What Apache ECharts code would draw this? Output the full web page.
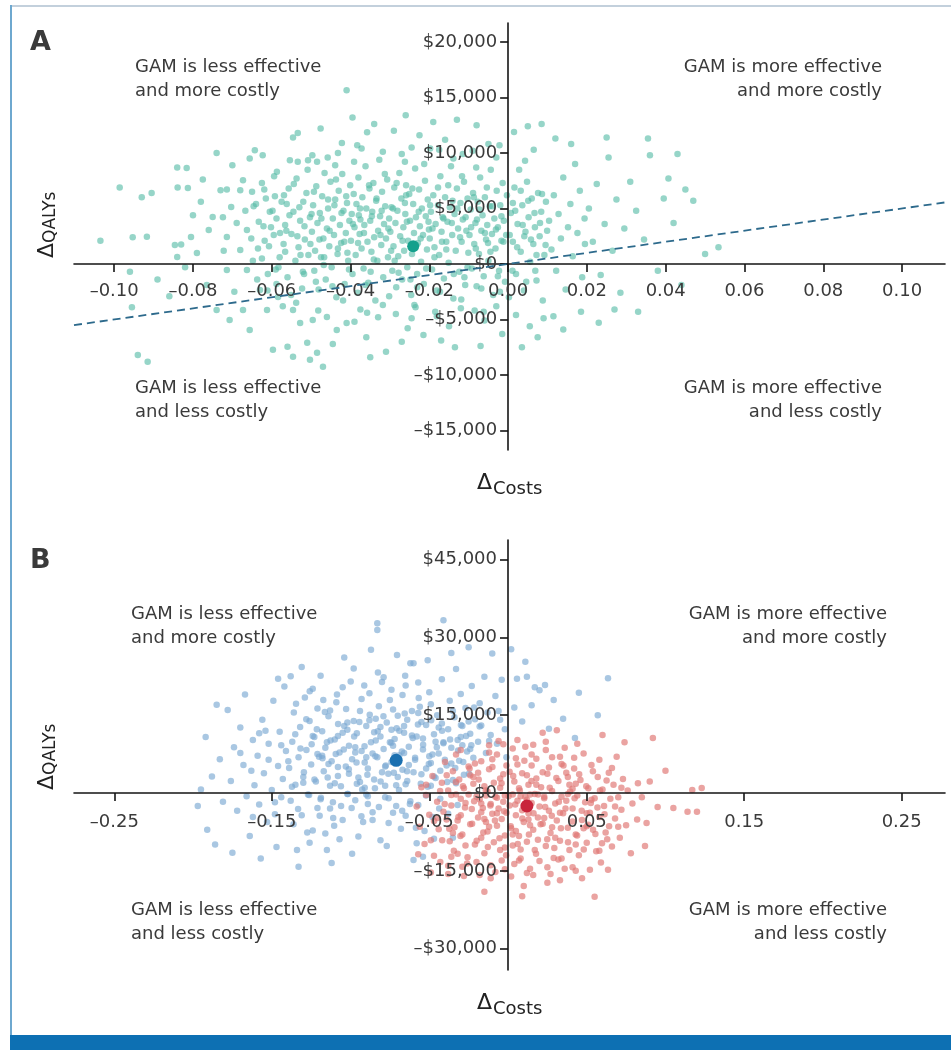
<!DOCTYPE html>
<html>
<head>
    <meta charset="utf-8">
    <title>Cost-effectiveness planes</title>
    <style>
        html, body { margin: 0; padding: 0; background: #fff; }
        #main { width: 951px; height: 1050px; }
    </style>
</head>
<body>
    <div id="main"></div>
    <script src="https://cdn.jsdelivr.net/npm/echarts/dist/echarts.min.js"></script>
    <script type="text/javascript">

        // ---- panel A data (x = difference, y = dollars) ----
        const aXTicks = [-0.10, -0.08, -0.06, -0.04, -0.02, 0, 0.02, 0.04, 0.06, 0.08, 0.10];
        const aYTicks = [-15000, -10000, -5000, 0, 5000, 10000, 15000, 20000];

        const aPoints = [
            [-0.1035,2100],[-0.0986,6900],[-0.0953,2400],[-0.0917,2450],[-0.0930,6000],[-0.0960,-700],[-0.0955,-3900],[-0.0940,-8200],[-0.0915,-8800],[-0.0905,6400],
            [-0.0840,8700],[-0.0816,8650],[-0.0839,6900],[-0.0813,6850],[-0.0846,1700],[-0.0800,4400],[-0.0840,630],[-0.0830,1750],[-0.0805,2430],[-0.0890,-1400],[-0.0860,-2900],[-0.0820,-300],
            [-0.0790,990],[-0.0760,3060],[-0.0750,4230],[-0.0724,4200],[-0.0714,2430],[-0.0740,10000],[-0.0730,6650],[-0.0714,6700],[-0.0700,8900],[-0.0714,-540],[-0.0740,-4140],[-0.0707,-5040],[-0.0780,5600],[-0.0765,-1900],[-0.0722,1200],[-0.0775,7600],[-0.0703,5130],
            [-0.0689,3690],[-0.0663,3060],[-0.0680,1260],[-0.0663,-540],[-0.0673,-4140],[-0.0656,-5940],[-0.0680,6650],[-0.0650,6500],[-0.0673,7550],[-0.0643,10250],[-0.0656,9500],[-0.0623,9800],[-0.0612,-4140],[-0.0630,-2340],[-0.0618,2100],[-0.0605,4700],[-0.0640,5400],[-0.0695,-2500],[-0.0625,7300],[-0.0610,-900],[-0.0648,300],[-0.0602,3300],[-0.0635,1400],[-0.0667,4800],[-0.0615,5900],
            [-0.0597,-7730],[-0.0560,-7460],[-0.0546,-8360],[-0.0510,-7100],[-0.0584,-2970],[-0.0546,-4140],[-0.0528,-5310],[-0.0587,8300],[-0.0546,11400],[-0.0534,11800],[-0.0554,9350],[-0.0534,9200],[-0.0508,9350],
            [-0.0595,2600],[-0.0588,4100],[-0.0580,600],[-0.0575,5600],[-0.0570,1800],[-0.0566,3500],[-0.0560,-1200],[-0.0557,6800],[-0.0550,2700],[-0.0545,4700],[-0.0540,300],[-0.0537,7700],[-0.0532,1500],[-0.0528,3900],[-0.0523,-2200],[-0.0520,5600],[-0.0516,2200],[-0.0512,6400],[-0.0507,800],[-0.0503,4200],[-0.0590,-500],[-0.0572,-3800],[-0.0518,-900],[-0.0563,3000],[-0.0592,6100],
            [-0.0503,-8630],[-0.0470,-9260],[-0.0485,-8000],[-0.0496,-5040],[-0.0460,-4770],[-0.0435,-5940],[-0.0410,-5310],[-0.0485,9200],[-0.0422,10900],[-0.0432,10000],
            [-0.0498,2900],[-0.0495,5300],[-0.0492,-600],[-0.0490,1200],[-0.0487,7000],[-0.0484,3700],[-0.0481,-2300],[-0.0478,4600],[-0.0475,600],[-0.0472,6100],[-0.0469,2300],[-0.0466,8200],[-0.0463,-1400],[-0.0460,3200],[-0.0457,5000],[-0.0454,1600],[-0.0451,7400],[-0.0448,-300],[-0.0445,4100],[-0.0442,2600],[-0.0439,5800],[-0.0436,-3000],[-0.0433,900],[-0.0430,6600],[-0.0427,3500],[-0.0424,1900],[-0.0421,8100],[-0.0418,4800],[-0.0415,-1800],[-0.0412,2800],[-0.0409,5500],[-0.0406,300],[-0.0403,3900],[-0.0401,7100],[-0.0476,12200],[-0.0445,-7200],[-0.0458,9600],
            [-0.0410,15650],[-0.0395,13200],[-0.0358,11870],[-0.0340,12600],[-0.0372,10400],
            [-0.0399,2100],[-0.0397,4500],[-0.0395,-900],[-0.0392,6300],[-0.0390,3300],[-0.0387,800],[-0.0385,5400],[-0.0382,-2600],[-0.0380,7800],[-0.0377,2700],[-0.0375,4000],[-0.0372,1400],[-0.0370,6000],[-0.0367,-400],[-0.0365,3500],[-0.0362,8800],[-0.0360,5000],[-0.0357,2000],[-0.0355,-1700],[-0.0352,6800],[-0.0350,3900],[-0.0347,1100],[-0.0345,4700],[-0.0342,7300],[-0.0340,2400],[-0.0337,-3300],[-0.0335,5700],[-0.0332,300],[-0.0330,3000],[-0.0327,9400],[-0.0325,4300],[-0.0322,1700],[-0.0320,6500],[-0.0317,-1200],[-0.0315,3600],[-0.0312,5200],[-0.0310,2300],[-0.0307,7600],[-0.0305,600],[-0.0302,4100],
            [-0.0390,-5200],[-0.0360,-6600],[-0.0330,-4800],[-0.0310,-7900],[-0.0375,-4100],[-0.0350,-8400],
            [-0.0290,12000],[-0.0260,13400],[-0.0225,11600],[-0.0245,10500],[-0.0270,9900],
            [-0.0299,2900],[-0.0296,5100],[-0.0294,-600],[-0.0291,1600],[-0.0289,6900],[-0.0286,3700],[-0.0284,-2100],[-0.0281,4800],[-0.0279,700],[-0.0276,8200],[-0.0274,2500],[-0.0271,5900],[-0.0269,-1400],[-0.0266,3300],[-0.0264,1200],[-0.0261,4500],[-0.0259,7100],[-0.0256,-300],[-0.0254,2100],[-0.0251,6300],[-0.0249,3900],[-0.0246,-2800],[-0.0244,900],[-0.0241,5400],[-0.0239,2800],[-0.0236,8600],[-0.0234,4200],[-0.0231,-900],[-0.0229,1900],[-0.0226,6700],[-0.0224,3400],[-0.0221,200],[-0.0219,5000],[-0.0216,2600],[-0.0214,-1800],[-0.0211,7500],[-0.0209,4300],[-0.0206,1300],[-0.0204,5800],[-0.0201,3100],
            [-0.0285,-4500],[-0.0255,-5800],[-0.0235,-3900],[-0.0215,-6400],[-0.0270,-7000],[-0.0245,-4900],
            [-0.0190,12800],[-0.0160,11200],[-0.0130,13000],[-0.0175,10300],[-0.0115,9900],
            [-0.0199,2300],[-0.0196,4700],[-0.0193,-500],[-0.0190,6200],[-0.0187,1500],[-0.0184,3600],[-0.0181,-2400],[-0.0178,5300],[-0.0175,800],[-0.0172,7900],[-0.0169,2900],[-0.0166,4200],[-0.0163,-1300],[-0.0160,6000],[-0.0157,2000],[-0.0154,3800],[-0.0151,100],[-0.0148,5100],[-0.0145,8800],[-0.0142,2600],[-0.0139,-3100],[-0.0136,4500],[-0.0133,1200],[-0.0130,6800],[-0.0127,3200],[-0.0124,-700],[-0.0121,5500],[-0.0118,2000],[-0.0115,4000],[-0.0112,7400],[-0.0109,-1900],[-0.0106,3000],[-0.0103,5900],[-0.0101,1000],
            [-0.0185,-4300],[-0.0150,-5600],[-0.0120,-4000],[-0.0170,-6900],[-0.0135,-7500],
            [-0.0080,12500],[-0.0050,10800],[-0.0030,9600],[-0.0090,10200],
            [-0.0098,2600],[-0.0095,4900],[-0.0092,-400],[-0.0089,6400],[-0.0086,1800],[-0.0083,3700],[-0.0080,-2000],[-0.0077,5600],[-0.0074,900],[-0.0071,7800],[-0.0068,3000],[-0.0065,4400],[-0.0062,-1100],[-0.0059,6000],[-0.0056,2200],[-0.0053,3500],[-0.0050,300],[-0.0047,5200],[-0.0044,8500],[-0.0041,2700],[-0.0038,-2800],[-0.0035,4100],[-0.0032,1400],[-0.0029,6600],[-0.0026,3300],[-0.0023,-600],[-0.0020,5300],[-0.0017,2100],[-0.0014,7300],[-0.0011,3900],[-0.0008,-1600],[-0.0005,2600],
            [-0.0085,-4200],[-0.0060,-5100],[-0.0030,-3800],[-0.0015,-6300],[-0.0070,-7400],
            [0.0007,4600],[0.0012,2000],[0.0016,6900],[0.0020,-900],[0.0024,3600],[0.0028,8500],[0.0032,1100],[0.0036,5300],[0.0040,-2400],[0.0044,2900],[0.0048,7400],[0.0052,4200],[0.0056,200],[0.0060,5900],[0.0064,1800],[0.0068,3300],[0.0072,-1500],[0.0076,6400],[0.0080,2500],[0.0084,4700],[0.0088,-3300],[0.0092,800],[0.0096,5600],[0.0099,3000],
            [0.0015,11900],[0.0050,12400],[0.0085,12600],[0.0065,10300],
            [0.0020,-4600],[0.0055,-5600],[0.0090,-4900],[0.0035,-7500],[0.0075,-6600],
            [0.0104,3900],[0.0110,1300],[0.0116,6200],[0.0122,-600],[0.0128,4500],[0.0134,2300],[0.0140,7800],[0.0146,-2300],[0.0152,3300],[0.0158,5400],[0.0164,700],[0.0170,9000],[0.0176,2800],[0.0182,6600],[0.0188,-1200],[0.0194,4100],[0.0120,11300],[0.0160,10800],[0.0115,-4700],[0.0140,-5900],[0.0185,-4300],[0.0195,1800],
            [0.0205,5000],[0.0215,2000],[0.0225,7200],[0.0235,-1000],[0.0245,3600],[0.0255,9600],[0.0265,1200],[0.0275,5800],[0.0285,-2600],[0.0295,3200],[0.0230,-5300],[0.0270,-4100],[0.0250,11400],
            [0.0310,7400],[0.0325,4800],[0.0345,2200],[0.0360,9800],[0.0380,-600],[0.0395,5900],[0.0420,3700],[0.0450,6700],[0.0500,900],[0.0330,-4300],[0.0355,11300],[0.0440,-1900],[0.0430,9900],[0.0534,1500],[0.0470,5700],[0.0407,7700]
        ];
        // extra points read from the dense core of the cloud
        const aCorePoints = [
            [-0.0652,2300],[-0.0646,5200],[-0.0637,-1400],[-0.0633,3800],[-0.0625,500],[-0.0619,6700],[-0.0611,-2400],[-0.0607,1600],[-0.0598,4800],[-0.0594,7900],
            [-0.0583,-300],[-0.0579,2800],[-0.0569,6200],[-0.0566,1100],[-0.0555,4400],[-0.0551,-2800],[-0.0544,7200],[-0.0535,2500],[-0.0530,5100],[-0.0521,-700],
            [-0.0517,3400],[-0.0509,8500],[-0.0502,1800],[-0.0493,6500],[-0.0488,-1600],[-0.0479,2200],[-0.0474,4100],[-0.0467,600],[-0.0457,5800],[-0.0453,3000],
            [-0.0446,-2000],[-0.0437,7600],[-0.0432,1400],[-0.0423,4600],[-0.0416,2000],[-0.0411,6100],[-0.0404,-500],[-0.0394,3600],[-0.0391,9200],[-0.0381,1900],
            [-0.0376,5000],[-0.0366,2800],[-0.0362,-1900],[-0.0353,7100],[-0.0346,4300],[-0.0341,400],[-0.0334,5900],[-0.0324,2600],[-0.0318,-3700],[-0.0313,8100],
            [-0.0304,3200],[-0.0297,1200],[-0.0292,5000],[-0.0283,7300],[-0.0278,-800],[-0.0268,2100],[-0.0262,5500],[-0.0257,3800],[-0.0248,-1400],[-0.0243,6800],
            [-0.0233,1700],[-0.0227,4700],[-0.0222,2300],[-0.0213,9000],[-0.0208,-400],[-0.0198,5300],[-0.0192,3200],[-0.0187,600],[-0.0178,6900],[-0.0173,-2500],
            [-0.0164,4100],[-0.0157,1300],[-0.0152,7100],[-0.0143,3700],[-0.0138,-900],[-0.0129,5000],[-0.0122,2400],[-0.0117,7900],[-0.0108,4200],[-0.0103,-300],
            [-0.0094,3300],[-0.0087,6000],[-0.0082,1400],[-0.0073,4900],[-0.0068,-2200],[-0.0059,2800],[-0.0054,6900],[-0.0045,1100],[-0.0040,5200],[-0.0031,3100],
            [-0.0026,-1100],[-0.0017,4300],[-0.0012,2000],[-0.0003,6200],[0.0004,2600],[0.0011,-600],[0.0018,4800],[0.0023,1500],[0.0032,6600],[0.0037,3500],
            [0.0046,-1600],[0.0051,5700],[0.0058,2200],[0.0067,4600],[0.0072,800],[0.0081,3700],[0.0086,6300],[0.0095,1700],
            [-0.0621,3400],[-0.0588,-1800],[-0.0562,5400],[-0.0527,800],[-0.0499,4500],[-0.0468,-100],[-0.0441,5300],[-0.0408,1000],[-0.0379,4400],[-0.0349,-700],
            [-0.0321,4800],[-0.0288,300],[-0.0259,6200],[-0.0231,-2100],[-0.0202,3800],[-0.0168,2000],[-0.0141,5700],[-0.0111,-1200],[-0.0079,4000],[-0.0051,1900],
            [-0.0021,-2500],[0.0012,5500],[0.0041,2500],[0.0069,-600],
            [-0.0538,-3500],[-0.0482,-4200],[-0.0419,-3300],[-0.0358,-4400],[-0.0302,-2900],[-0.0238,-3700],[-0.0181,-4700],[-0.0119,-3200],[-0.0062,-4300],[0.0002,-3000],
            [-0.0497,9800],[-0.0439,8900],[-0.0383,10700],[-0.0318,10100],[-0.0262,9200],[-0.0198,10400],[-0.0139,9500],[-0.0081,8700],[-0.0022,10700],[0.0043,9300]
        ];
        const aMean = [[-0.0241, 1600]];
        const aThreshold = [[-0.1102, -5510], [0.1109, 5545]];

        // ---- panel B data ----
        const bXTicks = [-0.25, -0.15, -0.05, 0.05, 0.15, 0.25];
        const bYTicks = [-30000, -15000, 0, 15000, 30000, 45000];

        const bBluePoints = [
            [-0.192,10800],[-0.191,-7100],[-0.185,17000],[-0.181,-1700],[-0.188,3200],[-0.183,6500],[-0.197,-2500],[-0.186,-9900],[-0.195,700],
            [-0.178,16000],[-0.176,2300],[-0.174,8800],[-0.172,-3400],[-0.170,12600],[-0.168,5400],[-0.166,-600],[-0.164,-8300],[-0.162,10200],[-0.161,1500],[-0.175,-11500],[-0.167,19000],[-0.163,4300],
            [-0.159,7200],[-0.158,-2200],[-0.156,14100],[-0.155,3800],[-0.153,-5600],[-0.152,9500],[-0.150,600],[-0.149,17800],[-0.147,-10400],[-0.146,5200],[-0.145,11800],[-0.144,-800],[-0.143,2700],[-0.142,20500],[-0.141,8100],[-0.157,-12600],[-0.148,-4100],[-0.154,12000],[-0.146,22000],
            [-0.139,4800],[-0.138,-1500],[-0.137,9900],[-0.136,15500],[-0.135,1600],[-0.134,-11000],[-0.133,6900],[-0.132,12700],[-0.131,-4300],[-0.130,3100],[-0.129,18400],[-0.128,8300],[-0.127,-300],[-0.126,13900],[-0.125,5500],[-0.124,-7200],[-0.123,10800],[-0.122,2200],[-0.121,16300],[-0.120,7000],[-0.138,22500],[-0.126,-9600],[-0.131,24300],[-0.124,20100],[-0.133,-14200],[-0.121,-2900],
            [-0.119,-1200],[-0.118,11900],[-0.117,4200],[-0.116,8700],[-0.115,-11000],[-0.114,14800],[-0.113,1400],[-0.112,6100],[-0.111,-4800],[-0.110,10300],[-0.109,17500],[-0.108,3300],[-0.107,7800],[-0.106,-2500],[-0.105,20400],[-0.104,12900],[-0.103,5100],[-0.102,-200],[-0.101,9100],[-0.119,22600],[-0.116,-7800],[-0.113,15900],[-0.110,1900],[-0.107,-8900],[-0.104,26100],[-0.102,13600],[-0.114,5600],[-0.108,11000],[-0.112,-13500],[-0.101,3700],[-0.118,7200],[-0.105,-5200],
            [-0.099,6500],[-0.098,24000],[-0.097,-1400],[-0.096,11500],[-0.095,3000],[-0.094,15800],[-0.093,8100],[-0.092,-5600],[-0.091,1000],[-0.090,12900],[-0.089,4700],[-0.088,19200],[-0.087,9800],[-0.086,-5200],[-0.085,2600],[-0.084,14300],[-0.083,32700],[-0.083,6900],[-0.082,-2700],[-0.081,-9100],[-0.081,10900],[-0.080,21400],[-0.080,4000],[-0.097,8800],[-0.095,-8400],[-0.093,18100],[-0.091,5900],[-0.089,-2100],[-0.087,27600],[-0.085,11700],[-0.083,31400],[-0.099,-11700],[-0.094,2100],[-0.088,14000],[-0.086,7600],[-0.082,16700],[-0.098,13900],[-0.090,-300],
            [-0.079,8500],[-0.078,-800],[-0.077,13600],[-0.076,3700],[-0.075,17900],[-0.074,6000],[-0.073,-3800],[-0.072,10400],[-0.071,1500],[-0.0705,26600],[-0.070,14900],[-0.069,7300],[-0.068,-6900],[-0.067,4500],[-0.066,11600],[-0.065,20700],[-0.064,2300],[-0.063,8900],[-0.062,25000],[-0.062,-1600],[-0.061,15800],[-0.060,-12900],[-0.060,25000],[-0.079,22300],[-0.077,-10200],[-0.075,9800],[-0.073,16100],[-0.071,-2500],[-0.069,12000],[-0.067,18900],[-0.065,-4400],[-0.063,5400],[-0.061,11100],[-0.078,5100],[-0.074,12200],[-0.070,3100],[-0.066,7700],[-0.064,14100],
            [-0.059,6400],[-0.058,10900],[-0.057,-2300],[-0.056,16600],[-0.055,3600],[-0.054,8400],[-0.053,-7300],[-0.052,13100],[-0.051,25600],[-0.051,1200],[-0.050,19400],[-0.049,5800],[-0.048,-4600],[-0.047,11300],[-0.046,2900],[-0.045,15000],[-0.044,7600],[-0.043,-1100],[-0.042,21900],[-0.041,33300],[-0.041,9600],[-0.058,-9700],[-0.055,13700],[-0.052,4700],[-0.049,17100],[-0.046,9900],[-0.043,4300],[-0.057,21300],[-0.054,-12300],[-0.047,-8800],[-0.044,12600],[-0.050,7100],
            [-0.039,5300],[-0.038,12300],[-0.037,17800],[-0.036,8700],[-0.035,2500],[-0.034,14600],[-0.033,23900],[-0.032,10200],[-0.031,6200],[-0.030,19100],[-0.029,12900],[-0.028,3500],[-0.027,16400],[-0.026,8000],[-0.025,28100],[-0.024,11400],[-0.023,20600],[-0.022,6800],[-0.021,14200],[-0.038,-4000],[-0.035,-8600],[-0.032,-2300],[-0.036,27000],[-0.029,9200],
            [-0.019,9900],[-0.018,17300],[-0.017,13000],[-0.015,22400],[-0.014,7700],[-0.013,15500],[-0.011,11200],[-0.010,26900],[-0.008,18700],[-0.007,9500],[-0.005,14100],[-0.004,21800],[-0.002,12300],[-0.001,6900],
            [0.0057,22000],[0.012,22400],[0.017,20400],[0.0235,20800],[0.020,19800],[0.029,17900],[0.0425,10600],[0.057,15000],[0.0635,22100],[0.004,16500],[0.009,13800],[0.015,16900],[0.035,14300],[0.045,19300],[0.026,12400],[0.002,27700],[0.011,25300]
        ];
        const bBlueCorePoints = [
            [-0.1395,6100],[-0.1372,1200],[-0.1351,11300],[-0.1333,-3100],[-0.1318,8600],[-0.1296,4000],[-0.1281,14200],[-0.1263,-400],[-0.1247,9400],[-0.1229,2600],
            [-0.1214,12300],[-0.1196,-4400],[-0.1178,6700],[-0.1163,15600],[-0.1145,3000],[-0.1127,10100],[-0.1112,-1800],[-0.1094,7500],[-0.1079,13300],[-0.1061,1300],
            [-0.1043,8400],[-0.1028,16200],[-0.1011,4600],[-0.0993,-2900],[-0.0977,10900],[-0.0962,5900],[-0.0944,13700],[-0.0926,700],[-0.0911,9000],[-0.0893,3500],
            [-0.0878,15100],[-0.0860,-3700],[-0.0842,7100],[-0.0827,11900],[-0.0809,2200],[-0.0791,14800],[-0.0776,5300],[-0.0758,-1000],[-0.0741,9700],[-0.0725,3900],
            [-0.0707,12500],[-0.0692,600],[-0.0674,8000],[-0.0656,15300],[-0.0641,4200],[-0.0623,-2100],[-0.0605,10600],[-0.0590,6800],[-0.0572,13200],[-0.0554,1800],
            [-0.0539,9300],[-0.0521,-500],[-0.0503,5600],[-0.0488,14000],[-0.0470,3200],[-0.0452,8800],[-0.0437,-3000],[-0.0419,12000],[-0.0401,6400],[-0.0386,2100],
            [-0.0368,10300],[-0.0350,15800],[-0.0335,4800],[-0.0317,8200],[-0.0299,13100],[-0.0284,6000],[-0.0266,11000],[-0.0248,3700],[-0.0233,9200],[-0.0215,16500],
            [-0.1362,-6000],[-0.1275,-7600],[-0.1188,-900],[-0.1104,-6300],[-0.1017,-200],[-0.0931,-4500],[-0.0845,900],[-0.0758,-5800],[-0.0672,-3400],[-0.0585,-6700],
            [-0.1346,17200],[-0.1259,19600],[-0.1173,17900],[-0.1086,19000],[-0.0999,21500],[-0.0913,20700],[-0.0826,23200],[-0.0740,19900],[-0.0653,22600],[-0.0567,18300],
            [-0.1150,9800],[-0.1080,5000],[-0.1020,12200],[-0.0960,1800],[-0.0900,6900],[-0.0840,10100],[-0.0780,1400],[-0.0720,7300],[-0.0660,12900],[-0.0600,4000],
            [-0.0540,10500],[-0.0480,7400],[-0.0420,13400],[-0.0360,5700],[-0.0300,10800],[-0.0240,8500],[-0.0180,12800],[-0.0120,10000],[-0.0060,15800],[-0.1240,11000],
            [-0.1300,2000],[-0.1210,7500],[-0.1130,-3000],[-0.1050,11600],[-0.0970,7800],[-0.0890,-600],[-0.0810,12700],[-0.0730,9100],[-0.0650,1700],[-0.0570,15400],
            [-0.0490,1400],[-0.0410,9800],[-0.0330,1900],[-0.0250,13800],[-0.1440,9200],[-0.1480,-1800],[-0.1520,6400],[-0.1580,11500],[-0.1620,-4600],[-0.1700,7700]
        ];

        const bRedPoints = [
            [-0.058,-2600],[-0.056,-6500],[-0.055,1100],[-0.053,-9800],[-0.052,-400],[-0.050,-4200],[-0.048,3300],[-0.047,-12100],[-0.045,-1700],[-0.044,-7000],[-0.042,2000],[-0.041,-3600],[-0.057,-11800],[-0.049,-15300],
            [-0.039,-5100],[-0.038,500],[-0.037,-9300],[-0.036,-2400],[-0.035,4200],[-0.034,-6600],[-0.033,-300],[-0.032,-11700],[-0.031,2600],[-0.030,-4300],[-0.029,-8000],[-0.028,900],[-0.027,-1900],[-0.026,-13600],[-0.025,5100],[-0.024,-6000],[-0.023,-3100],[-0.022,1800],[-0.021,-9900],[-0.020,-700],[-0.038,-14000],[-0.033,7400],[-0.028,-16000],[-0.024,3400],[-0.036,-12300],[-0.030,-1100],
            [-0.019,-4700],[-0.019,3900],[-0.018,-1200],[-0.017,-8600],[-0.017,6100],[-0.016,-2900],[-0.015,1300],[-0.015,-11600],[-0.014,-5600],[-0.013,300],[-0.013,-7400],[-0.012,4600],[-0.011,-2100],[-0.011,-13900],[-0.010,-4000],[-0.009,2000],[-0.009,-9500],[-0.008,-700],[-0.007,7400],[-0.007,-6300],[-0.006,-3000],[-0.005,1000],[-0.005,-11000],[-0.004,-5000],[-0.003,3600],[-0.003,-1700],[-0.002,-8200],[-0.001,-3800],[-0.001,5300],[-0.018,-15800],[-0.012,9200],[-0.008,-15200],[-0.004,-13000],[-0.015,-19000],[-0.006,10000],[-0.010,6500],[-0.002,-10500],[-0.014,-500],
            [0.001,-2400],[0.001,4100],[0.002,-6800],[0.003,-300],[0.003,-10100],[0.004,2200],[0.005,-4300],[0.005,6700],[0.006,-1500],[0.007,-8300],[0.007,900],[0.008,-12600],[0.009,-3300],[0.009,3800],[0.010,-5600],[0.011,-700],[0.011,8900],[0.012,-9400],[0.013,1600],[0.013,-3900],[0.014,-14600],[0.015,-1900],[0.015,5300],[0.016,-7100],[0.017,-200],[0.017,-11000],[0.018,2800],[0.019,-4700],[0.019,-9000],[0.020,-2600],[0.002,-16100],[0.006,10200],[0.010,-17900],[0.012,-15400],[0.016,9300],[0.004,-13700],[0.008,-600],[0.014,-6200],[0.018,6600],[0.003,8600],[0.012,3400],[0.020,-13100],[0.009,-19900],
            [0.021,1100],[0.022,-5900],[0.022,11600],[0.023,-1000],[0.024,-10200],[0.025,-17300],[0.025,3700],[0.026,-3400],[0.027,-7700],[0.028,400],[0.028,6900],[0.029,-12500],[0.030,-2000],[0.031,12100],[0.031,-5300],[0.032,2300],[0.033,-9200],[0.034,-700],[0.034,5600],[0.035,-3900],[0.036,-14600],[0.036,8700],[0.037,-1500],[0.038,-6700],[0.039,1600],[0.039,-11000],[0.024,8300],[0.027,-15600],[0.033,-16800],[0.037,3900],[0.030,-8600],[0.026,4900],[0.038,-200],
            [0.041,-14300],[0.041,-3000],[0.042,4700],[0.043,-8000],[0.044,-500],[0.045,-12000],[0.046,2500],[0.047,-5200],[0.048,7600],[0.049,-1800],[0.050,-9600],[0.051,900],[0.052,-3800],[0.053,5400],[0.054,-7100],[0.055,-20000],[0.055,-1000],[0.056,-11200],[0.057,3100],[0.058,-4600],[0.059,-13400],[0.060,11200],[0.060,700],[0.044,9500],[0.047,-16400],[0.052,-14800],[0.058,6400],[0.050,-6400],[0.043,1800],
            [0.061,-2500],[0.062,-7600],[0.0635,-14800],[0.064,3900],[0.065,-1100],[0.066,-10300],[0.067,1600],[0.068,-4900],[0.069,7000],[0.070,-800],[0.071,-8600],[0.072,-3200],[0.073,2700],[0.075,-6200],[0.076,500],[0.078,-11600],[0.079,-2000],[0.074,9800],
            [0.0825,1900],[0.082,-5100],[0.085,-800],[0.088,-5800],[0.092,10600],[0.090,2200],[0.095,-2700],[0.105,-2900],[0.114,-3600],[0.120,-3600],[0.123,960],[0.117,580],[0.100,4300],[0.087,-10200]
        ];
        const bRedCorePoints = [
            [-0.0447,-4800],[-0.0431,400],[-0.0418,-9100],[-0.0402,-2100],[-0.0389,3400],[-0.0373,-6900],[-0.0360,-400],[-0.0344,-11100],[-0.0331,2100],[-0.0315,-4600],
            [-0.0302,-8300],[-0.0286,1300],[-0.0273,-2800],[-0.0257,-12400],[-0.0244,4700],[-0.0228,-5900],[-0.0215,-1600],[-0.0199,-9200],[-0.0186,2600],[-0.0170,-3700],
            [-0.0157,-7600],[-0.0141,500],[-0.0128,-10400],[-0.0112,-2400],[-0.0099,5000],[-0.0083,-5300],[-0.0070,-900],[-0.0054,-8700],[-0.0041,1900],[-0.0025,-3500],
            [-0.0012,-12000],[0.0004,-600],[0.0017,-6400],[0.0033,3300],[0.0046,-2200],[0.0062,-9800],[0.0075,500],[0.0091,-4900],[0.0104,6200],[0.0120,-1300],
            [0.0133,-8000],[0.0149,2300],[0.0162,-3900],[0.0178,-11700],[0.0191,-300],[0.0207,-6000],[0.0220,4000],[0.0236,-2700],[0.0249,-8900],[0.0265,1000],
            [0.0278,-4400],[0.0294,-10600],[0.0307,2900],[0.0323,-1700],[0.0336,-6800],[0.0352,5300],[0.0365,-3000],[0.0381,-9500],[0.0394,300],[0.0410,-5500],
            [0.0423,-1000],[0.0439,-8200],[0.0452,3600],[0.0468,-3400],[0.0481,-10900],[0.0497,1300],[0.0510,-6100],[0.0526,-1900],[0.0539,4200],[0.0555,-7900],
            [0.0568,-2800],[0.0584,500],[0.0597,-9700],[0.0613,-4100],[0.0626,2400],[0.0642,-6400],
            [-0.0380,-15600],[-0.0290,-14200],[-0.0200,-13300],[-0.0110,-16400],[-0.0020,-14700],[0.0070,-13000],[0.0160,-15800],[0.0250,-14300],[0.0340,-12600],[0.0430,-15000],
            [-0.0400,6000],[-0.0300,8300],[-0.0210,5700],[-0.0120,7800],[-0.0030,9400],[0.0060,5500],[0.0150,7400],[0.0240,9900],[0.0330,7000],[0.0420,6800],
            [-0.0350,-7700],[-0.0250,-300],[-0.0150,-5000],[-0.0050,2800],[0.0050,-7300],[0.0140,-300],[0.0230,-4800],[0.0320,-12800],[0.0410,800],[0.0500,-3900],
            [-0.0320,-5300],[-0.0220,3100],[-0.0120,-6500],[-0.0020,-500],[0.0080,-10900],[0.0180,1600],[0.0280,-6600],[0.0380,3100],[0.0480,-6800],[0.0580,-11100],
            [-0.0270,-10100],[-0.0170,-2000],[-0.0070,-3900],[0.0030,-8000],[0.0130,-5100],[0.0230,-700],[0.0330,-3800],[0.0430,-9900],[0.0530,-1300],[0.0630,-8900],
            [0.0680,-2600],[0.0700,-6500],[0.0720,1000],[0.0660,4800],[-0.0490,-9100],[-0.0520,1600],[-0.0470,-5400],[-0.0430,-13300]
        ];
        const bBlueMean = [[-0.071, 6300]];
        const bRedMean = [[0.012, -2500]];

        const quadrantText = {
            lessMore: 'GAM is less effective\nand more costly',
            moreMore: 'GAM is more effective\nand more costly',
            lessLess: 'GAM is less effective\nand less costly',
            moreLess: 'GAM is more effective\nand less costly'
        };

        const FONT = '"DejaVu Sans", "Liberation Sans", sans-serif';
        const TEXT_COLOR = '#3a3a3a';
        const AXIS_COLOR = '#151515';

        const gridA = {left: 74, top: 23, width: 871, height: 427};
        const gridB = {left: 74, top: 540, width: 871, height: 430};
        const rangeA = {xMin: -0.1102, xMax: 0.1109, yMin: -16760, yMax: 21710};
        const rangeB = {xMin: -0.2756, xMax: 0.2775, yMin: -34100, yMax: 48750};

        function fmtX(v) {
            return (v < 0 ? '\u2013' : '') + Math.abs(v).toFixed(2);
        }

        function fmtY(v) {
            return (v < 0 ? '\u2013' : '') + '$' + Math.abs(v).toLocaleString('en-US');
        }

        // the axes cross at zero: shift each axis from the grid edge to the zero line
        function zeroOffsets(g, r) {
            const zx = (0 - r.xMin) / (r.xMax - r.xMin) * g.width;
            const zy = (r.yMax - 0) / (r.yMax - r.yMin) * g.height;
            return {x: -(g.height - zy), y: -zx};
        }

        function makeXAxis(grid, r, ticks, margin, offset) {
            return {
                type: 'value', gridIndex: grid, min: r.xMin, max: r.xMax, z: 5, offset: offset,
                axisLine: {onZero: false, lineStyle: {color: AXIS_COLOR, width: 1.6}},
                axisTick: {show: true, customValues: ticks, length: 8, lineStyle: {color: AXIS_COLOR, width: 1.6}},
                axisLabel: {customValues: ticks, margin: margin, color: TEXT_COLOR, fontSize: 18, fontFamily: FONT, formatter: fmtX},
                splitLine: {show: false}
            };
        }

        function makeYAxis(grid, r, ticks, offset) {
            return {
                type: 'value', gridIndex: grid, min: r.yMin, max: r.yMax, z: 5, offset: offset,
                axisLine: {onZero: false, lineStyle: {color: AXIS_COLOR, width: 1.6}},
                axisTick: {show: true, customValues: ticks, length: 8, lineStyle: {color: AXIS_COLOR, width: 1.6}},
                axisLabel: {customValues: ticks, margin: 11, color: TEXT_COLOR, fontSize: 18, fontFamily: FONT, formatter: fmtY},
                splitLine: {show: false}
            };
        }

        function cloud(data, xi, color, size, opacity) {
            return {
                type: 'scatter', xAxisIndex: xi, yAxisIndex: xi, data: data,
                symbolSize: size, silent: true, large: false,
                itemStyle: {color: color, opacity: opacity}
            };
        }

        function label(text, x, y, align, size, weight) {
            return {
                type: 'text', x: x, y: y,
                style: {
                    text: text, fill: TEXT_COLOR, textAlign: align, align: align,
                    textVerticalAlign: 'middle', verticalAlign: 'middle',
                    font: (weight || 'normal') + ' ' + size + 'px ' + FONT, lineHeight: 24
                }
            };
        }

        function vlabel(x, y) {
            // rotated "Δ" with subscript "QALYs"
            return {
                type: 'group', x: x, y: y, rotation: Math.PI / 2,
                children: [
                    {type: 'text', x: 0, y: 0, style: {text: '\u0394', fill: '#222', textAlign: 'left', align: 'left', textVerticalAlign: 'middle', verticalAlign: 'middle', font: '22px ' + FONT}},
                    {type: 'text', x: 15, y: 4, style: {text: 'QALYs', fill: '#222', textAlign: 'left', align: 'left', textVerticalAlign: 'middle', verticalAlign: 'middle', font: '17px ' + FONT}}
                ]
            };
        }

        function hlabel(x, y) {
            return {
                type: 'group', x: x, y: y,
                children: [
                    {type: 'text', x: 0, y: 0, style: {text: '\u0394', fill: '#222', textAlign: 'left', align: 'left', textVerticalAlign: 'middle', verticalAlign: 'middle', font: '22px ' + FONT}},
                    {type: 'text', x: 16, y: 6, style: {text: 'Costs', fill: '#222', textAlign: 'left', align: 'left', textVerticalAlign: 'middle', verticalAlign: 'middle', font: '18px ' + FONT}}
                ]
            };
        }

        let myChart = echarts.init(document.getElementById('main'));

        const offA = zeroOffsets(gridA, rangeA);
        const offB = zeroOffsets(gridB, rangeB);

        const option = {
            animation: false,
            backgroundColor: '#fff',
            grid: [
                Object.assign({containLabel: false, outerBoundsMode: 'none'}, gridA),
                Object.assign({containLabel: false, outerBoundsMode: 'none'}, gridB)
            ],
            xAxis: [
                makeXAxis(0, rangeA, aXTicks, 18, offA.x),
                makeXAxis(1, rangeB, bXTicks, 20, offB.x)
            ],
            yAxis: [
                makeYAxis(0, rangeA, aYTicks, offA.y),
                makeYAxis(1, rangeB, bYTicks, offB.y)
            ],
            series: [
                cloud(aPoints.concat(aCorePoints), 0, '#55bca6', 6.5, 0.62),
                {
                    type: 'line', xAxisIndex: 0, yAxisIndex: 0, data: aThreshold,
                    symbol: 'none', silent: true, z: 6,
                    lineStyle: {color: '#2d6a8c', width: 1.8, type: [8, 5]}
                },
                cloud(aMean, 0, '#14a08c', 12, 1),
                cloud(bBluePoints.concat(bBlueCorePoints), 1, '#7ba9d3', 6.5, 0.65),
                cloud(bRedPoints.concat(bRedCorePoints), 1, '#e07774', 6.5, 0.68),
                cloud(bBlueMean, 1, '#1b70b0', 13, 1),
                cloud(bRedMean, 1, '#c8243b', 13, 1)
            ],
            graphic: [
                {type: 'line', shape: {x1: 10, y1: 6, x2: 951, y2: 6}, style: {stroke: '#c3d0dc', lineWidth: 2}},
                {type: 'line', shape: {x1: 11, y1: 5, x2: 11, y2: 1035}, style: {stroke: '#6ea8cf', lineWidth: 2}},
                {type: 'rect', shape: {x: 10, y: 1035, width: 941, height: 15}, style: {fill: '#0d70b3'}},
                label('A', 30, 43, 'left', 27, 'bold'),
                label('B', 30, 561, 'left', 27, 'bold'),
                label(quadrantText.lessMore, 135, 79, 'left', 18),
                label(quadrantText.moreMore, 882, 79, 'right', 18),
                label(quadrantText.lessLess, 135, 400, 'left', 18),
                label(quadrantText.moreLess, 882, 400, 'right', 18),
                label(quadrantText.lessMore, 131, 626, 'left', 18),
                label(quadrantText.moreMore, 887, 626, 'right', 18),
                label(quadrantText.lessLess, 131, 922, 'left', 18),
                label(quadrantText.moreLess, 887, 922, 'right', 18),
                vlabel(47, 258),
                vlabel(47, 790),
                hlabel(477, 483),
                hlabel(477, 1003)
            ]
        };

        myChart.setOption(option);

    </script>
</body>
</html>
